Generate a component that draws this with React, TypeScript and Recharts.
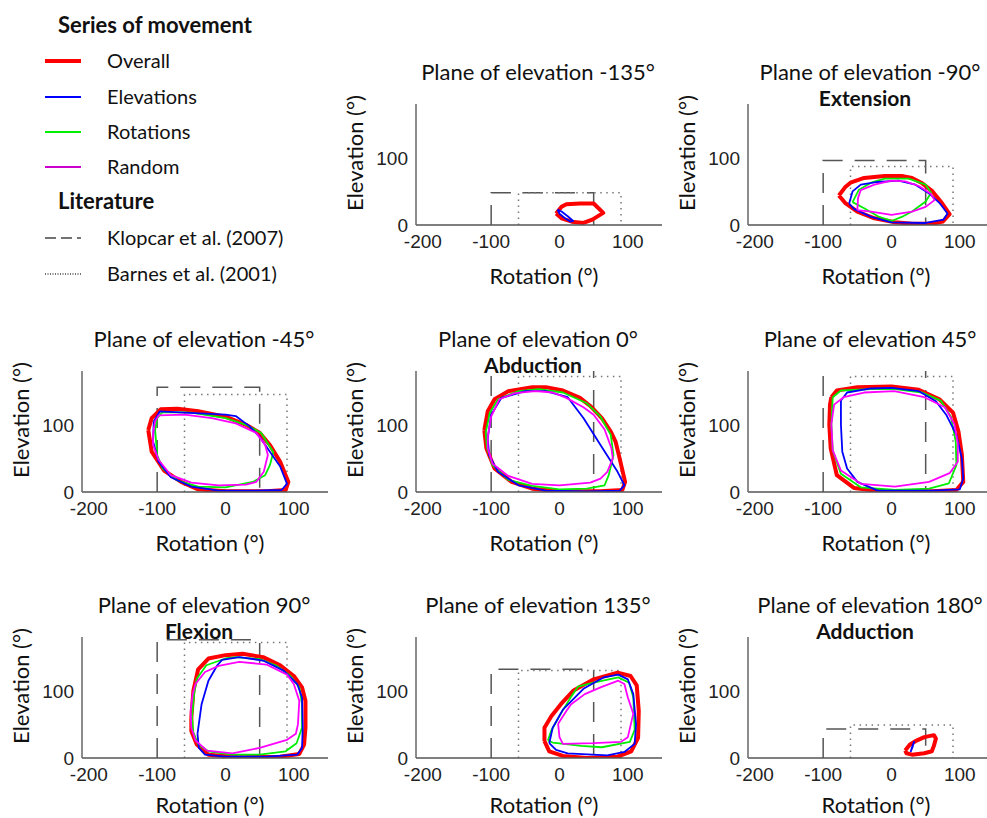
import React from 'react';
import { LineChart, Line, XAxis, YAxis } from 'recharts';

type Pt = [number, number];

// rotation / elevation loops per plane of elevation (degrees)
const m135Overall: Pt[] = [[-5,17],[3,27],[10,31],[30,32],[50,32],[64,18],[48,8],[35,3],[18,5],[3,10],[-5,17]];
const m135Elev: Pt[] = [[-3,23],[3,20],[12,13],[20,6],[16,5],[8,10],[0,17],[-3,23]];

const m90Overall: Pt[] = [[-77,44],[-68,56],[-60,63],[-40,70],[-10,73],[15,73],[30,70],[45,62],[60,50],[72,35],[85,16],[75,5],[60,2],[30,2],[5,4],[-25,10],[-50,20],[-68,33],[-77,44]];
const m90Elev: Pt[] = [[-62,32],[-57,50],[-45,60],[-20,64],[10,66],[35,60],[55,47],[70,33],[82,17],[76,8],[50,3],[0,4],[-30,12],[-55,24],[-62,32]];
const m90Rot: Pt[] = [[-57,34],[-48,52],[-30,63],[-10,69],[25,69],[50,60],[58,48],[50,35],[30,20],[15,12],[0,6],[-18,12],[-40,25],[-57,34]];
const m90Rand: Pt[] = [[-50,22],[-49,40],[-45,52],[-25,60],[0,66],[20,65],[40,58],[57,47],[63,37],[50,27],[30,20],[0,15],[-30,20],[-50,22]];

const m45Overall: Pt[] = [[-113,92],[-108,110],[-95,123],[-70,124],[-40,120],[0,112],[30,100],[50,88],[65,70],[80,45],[92,15],[88,3],[60,1],[0,1],[-40,4],[-65,15],[-90,32],[-108,60],[-113,92]];
const m45Elev: Pt[] = [[-105,105],[-96,120],[-60,118],[0,115],[15,113],[35,98],[50,82],[65,60],[80,38],[90,12],[82,3],[40,2],[-10,2],[-50,8],[-80,22],[-98,45],[-106,75],[-105,105]];
const m45Rot: Pt[] = [[-103,92],[-100,110],[-92,119],[-50,118],[0,110],[30,100],[52,88],[62,72],[70,59],[65,40],[58,25],[40,15],[0,7],[-40,8],[-70,17],[-92,35],[-100,55],[-103,92]];
const m45Rand: Pt[] = [[-106,87],[-103,105],[-98,114],[-60,115],[-20,110],[15,102],[45,88],[58,70],[62,55],[56,30],[45,15],[30,11],[-10,10],[-50,14],[-80,25],[-98,48],[-106,70],[-106,87]];

const p0Overall: Pt[] = [[-110,92],[-105,120],[-95,138],[-75,150],[-40,156],[-20,156],[5,151],[30,140],[45,128],[62,110],[75,90],[82,75],[88,50],[96,15],[92,3],[60,1],[0,1],[-40,5],[-70,15],[-95,35],[-107,65],[-110,92]];
const p0Elev: Pt[] = [[-105,80],[-100,115],[-85,140],[-50,150],[-20,150],[12,141],[35,110],[60,70],[85,30],[95,10],[88,2],[40,1],[-20,2],[-60,10],[-90,30],[-103,55],[-105,80]];
const p0Rot: Pt[] = [[-108,88],[-102,118],[-90,138],[-60,150],[-30,153],[5,148],[40,132],[60,112],[75,85],[79,55],[72,25],[66,10],[40,5],[0,4],[-40,9],[-75,18],[-98,40],[-106,65],[-108,88]];
const p0Rand: Pt[] = [[-105,82],[-100,112],[-88,138],[-65,147],[-35,150],[-10,148],[10,140],[35,126],[50,115],[66,93],[76,65],[78,50],[70,30],[60,20],[45,14],[0,10],[-40,12],[-75,24],[-98,42],[-105,65],[-105,82]];

const p45Overall: Pt[] = [[-88,141],[-80,151],[-50,156],[0,157],[40,152],[70,138],[90,118],[98,90],[103,55],[105,15],[95,3],[60,1],[-15,1],[-55,6],[-80,25],[-89,65],[-91,100],[-90,130],[-88,141]];
const p45Elev: Pt[] = [[-74,136],[-65,148],[-30,154],[0,155],[40,150],[65,135],[80,115],[95,85],[103,50],[105,20],[100,4],[60,2],[-20,2],[-50,15],[-65,35],[-72,60],[-74,100],[-74,136]];
const p45Rot: Pt[] = [[-86,141],[-74,151],[-30,153],[5,153],[45,148],[72,136],[87,112],[94,75],[95,40],[84,13],[55,5],[5,3],[-45,7],[-74,27],[-86,62],[-88,100],[-86,141]];
const p45Rand: Pt[] = [[-88,101],[-84,130],[-70,141],[-40,148],[4,150],[48,141],[78,126],[92,101],[97,72],[97,45],[85,28],[55,15],[5,8],[-44,12],[-74,32],[-86,62],[-88,101]];

const p90Overall: Pt[] = [[-50,60],[-47,100],[-40,132],[-25,148],[0,153],[25,155],[55,150],[80,138],[100,122],[112,105],[117,85],[117,45],[115,20],[108,6],[80,2],[20,1],[-25,5],[-42,20],[-50,40],[-50,60]];
const p90Elev: Pt[] = [[-41,36],[-35,80],[-25,115],[-12,138],[-5,146],[20,150],[55,145],[85,130],[105,110],[112,90],[113,45],[112,15],[105,5],[60,2],[0,2],[-30,5],[-39,15],[-41,36]];
const p90Rot: Pt[] = [[-49,61],[-46,95],[-42,118],[-28,138],[0,148],[15,150],[50,147],[75,137],[95,122],[108,105],[112,80],[112,45],[104,22],[88,10],[50,5],[10,5],[-25,10],[-40,20],[-47,38],[-49,61]];
const p90Rand: Pt[] = [[-51,70],[-48,95],[-44,110],[-30,128],[-10,137],[20,143],[60,139],[90,124],[100,110],[108,85],[106,50],[103,36],[90,27],[50,15],[10,7],[-27,11],[-44,26],[-50,45],[-51,70]];

const p135Overall: Pt[] = [[-22,25],[-22,45],[-12,62],[2,80],[20,100],[50,117],[85,127],[104,122],[113,108],[116,70],[115,30],[105,10],[85,2],[40,0],[5,3],[-15,10],[-22,25]];
const p135Elev: Pt[] = [[-15,22],[-10,45],[5,72],[35,103],[65,120],[86,124],[100,117],[108,95],[112,50],[110,21],[95,9],[70,4],[12,7],[-5,12],[-15,22]];
const p135Rot: Pt[] = [[-17,26],[-12,41],[2,66],[15,88],[27,106],[50,112],[86,120],[102,112],[108,90],[110,42],[103,24],[62,16],[32,18],[-10,23],[-17,26]];
const p135Rand: Pt[] = [[-2,51],[10,70],[17,80],[37,95],[60,105],[86,115],[95,110],[100,90],[108,66],[100,31],[90,24],[50,22],[5,21],[0,31],[-2,51]];

const p180Overall: Pt[] = [[20,11],[27,20],[35,25],[48,31],[62,34],[65,29],[62,18],[59,10],[48,7],[30,5],[22,7],[20,11]];
const p180Elev: Pt[] = [[28,9],[30,16],[33,24],[31,17],[28,9]];

// literature ranges: rotation span and upper elevation per plane
const klopcarRot: Pt = [-100, 50];
const barnesRot: Pt = [-60, 90];
const klopcarTop = [48, 96, 156, 190, 190, 176, 132, 43];
const barnesTop = [48, 87, 145, 172, 172, 172, 130, 49];

const planeTitles = ['-135', '-90', '-45', '0', '45', '90', '135', '180'];
const planeNames = ['', 'Extension', '', 'Abduction', '', 'Flexion', '', 'Adduction'];
const xTicks = [-200, -100, 0, 100];
const yTicks = [0, 100];

const seriesData: Pt[][][] = [
  [m135Overall, m135Elev, [], []],
  [m90Overall, m90Elev, m90Rot, m90Rand],
  [m45Overall, m45Elev, m45Rot, m45Rand],
  [p0Overall, p0Elev, p0Rot, p0Rand],
  [p45Overall, p45Elev, p45Rot, p45Rand],
  [p90Overall, p90Elev, p90Rot, p90Rand],
  [p135Overall, p135Elev, p135Rot, p135Rand],
  [p180Overall, p180Elev, [], []],
];

// axis origin (px) of each panel
const origins: Pt[] = [
  [416, 225], [748, 225],
  [82, 492], [416, 492], [748, 492],
  [82, 758], [416, 758], [748, 758],
];

const COLORS = ['#ff0000', '#0000ff', '#00ee00', '#ff00ff'];
const WIDTHS = [4, 1.8, 1.8, 1.8];
const DRAW_ORDER = [0, 2, 1, 3];

const PLOT_W = 246;
const PLOT_H = 121;
const Y_W = 50;
const TOP = 10;
const X_H = 35;

const SANS = 'Lato, "Open Sans", sans-serif';
const TICK_FONT = '"Liberation Sans", Arial, sans-serif';

const toObjs = (pts: Pt[]) => pts.map(([x, y]) => ({ x, y }));
const rect = (rot: Pt, top: number) => toObjs([[rot[0], 0], [rot[0], top], [rot[1], top], [rot[1], 0]]);

const Panel = ({ i }: { i: number }) => {
  const [ax, ay] = origins[i];
  const left = ax - Y_W;
  const top = ay - PLOT_H - TOP;
  const cx = ax + 122;
  const txt: React.CSSProperties = {
    position: 'absolute', transform: 'translate(-50%,-50%)', whiteSpace: 'nowrap',
    fontFamily: SANS, lineHeight: 1, color: '#111',
  };
  return (
    <>
      <div style={{ ...txt, left: cx, top: ay - 153, fontSize: 22 }}>
        Plane of elevation {planeTitles[i]}°
      </div>
      {planeNames[i] && (
        <div style={{ ...txt, left: cx - 5, top: ay - 128, fontSize: 21, fontWeight: 700 }}>{planeNames[i]}</div>
      )}
      <div style={{ ...txt, left: ax + 128, top: Math.min(ay + 51, 805), fontSize: 22 }}>Rotation (°)</div>
      <div style={{ ...txt, left: ax - 61, top: ay - 72, fontSize: 22, transform: 'translate(-50%,-50%) rotate(-90deg)' }}>
        Elevation (°)
      </div>
      <div style={{ position: 'absolute', left, top }}>
        <LineChart width={Y_W + PLOT_W + 5} height={TOP + PLOT_H + X_H} margin={{ top: TOP, right: 5, left: 0, bottom: 0 }}>
          <XAxis
            type="number" dataKey="x" domain={[-210, 150]} ticks={xTicks} allowDataOverflow
            height={X_H} tickSize={0} tickMargin={10} tickLine={false}
            axisLine={{ stroke: '#555', strokeWidth: 1.5 }}
            tick={{ fill: '#222', fontSize: 19, fontFamily: TICK_FONT }}
          />
          <YAxis
            type="number" dataKey="y" domain={[0, 180]} ticks={yTicks} allowDataOverflow
            width={Y_W} tickSize={0} tickMargin={8} tickLine={false}
            axisLine={{ stroke: '#666', strokeWidth: 1.5 }}
            tick={{ fill: '#222', fontSize: 19, fontFamily: TICK_FONT }}
          />
          <Line data={rect(klopcarRot, klopcarTop[i])} dataKey="y" stroke="#555" strokeWidth={1.5}
            strokeDasharray="20 12" dot={false} isAnimationActive={false} />
          <Line data={rect(barnesRot, barnesTop[i])} dataKey="y" stroke="#777" strokeWidth={1.5}
            strokeDasharray="1.5 4.5" dot={false} isAnimationActive={false} />
          {DRAW_ORDER.map((s) =>
            seriesData[i][s].length ? (
              <Line key={s} data={toObjs(seriesData[i][s])} dataKey="y" stroke={COLORS[s]} strokeWidth={WIDTHS[s]}
                strokeLinejoin="round" dot={false} isAnimationActive={false} />
            ) : null
          )}
        </LineChart>
      </div>
    </>
  );
};

const legendItems = [
  { label: 'Overall', color: '#ff0000', width: 4, dash: undefined as string | undefined, y: 61 },
  { label: 'Elevations', color: '#0000ff', width: 2, dash: undefined, y: 97 },
  { label: 'Rotations', color: '#00ee00', width: 2, dash: undefined, y: 132 },
  { label: 'Random', color: '#cc00cc', width: 2, dash: undefined, y: 167 },
  { label: 'Klopcar et al. (2007)', color: '#444', width: 1.5, dash: '11 5', y: 238 },
  { label: 'Barnes et al. (2001)', color: '#444', width: 1.5, dash: '1 1.5', y: 274 },
];

const Legend = () => {
  const head: React.CSSProperties = {
    position: 'absolute', left: 58, transform: 'translateY(-50%)', fontFamily: SANS,
    fontWeight: 700, fontSize: 22, lineHeight: 1, color: '#111', whiteSpace: 'nowrap',
  };
  return (
    <>
      <div style={{ ...head, top: 25 }}>Series of movement</div>
      <div style={{ ...head, top: 201 }}>Literature</div>
      {legendItems.map((it) => (
        <React.Fragment key={it.label}>
          <svg style={{ position: 'absolute', left: 44, top: it.y - 4 }} width={38} height={8}>
            <line x1={1} y1={4} x2={37} y2={4} stroke={it.color} strokeWidth={it.width} strokeDasharray={it.dash} />
          </svg>
          <div style={{
            position: 'absolute', left: 107, top: it.y - 1, transform: 'translateY(-50%)', fontFamily: SANS,
            fontSize: 20, lineHeight: 1, color: '#111', whiteSpace: 'nowrap',
          }}>{it.label}</div>
        </React.Fragment>
      ))}
    </>
  );
};

export default function App() {
  return (
    <div style={{ position: 'absolute', left: 0, top: 0, width: 987, height: 818, overflow: 'hidden', background: '#fff' }}>
      <Legend />
      {origins.map((_, i) => <Panel key={i} i={i} />)}
    </div>
  );
}
